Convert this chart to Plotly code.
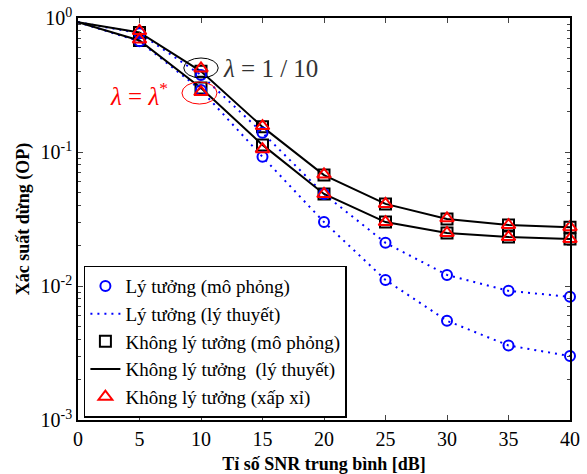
import numpy as np
import plotly.graph_objects as go

snr_db = [0, 5, 10, 15, 20, 25, 30, 35, 40]
snr_sim = [5, 10, 15, 20, 25, 30, 35, 40]

# Ideal (theory) curves: lambda = 1/10 and lambda = lambda*
ideal_theory_a = [0.93, 0.77, 0.375, 0.139, 0.0486, 0.021, 0.0121, 0.0092, 0.0083]
ideal_theory_b = [0.93, 0.67, 0.29, 0.092, 0.030, 0.0111, 0.0055, 0.0036, 0.0030]
ideal_sim_a = [0.77, 0.375, 0.139, 0.0486, 0.021, 0.0121, 0.0092, 0.0083]
ideal_sim_b = [0.67, 0.29, 0.092, 0.030, 0.0111, 0.0055, 0.0036, 0.0030]

# Non-ideal curves
nonideal_theory_a = [0.93, 0.78, 0.40, 0.154, 0.0673, 0.041, 0.0316, 0.0285, 0.0275]
nonideal_theory_b = [0.93, 0.68, 0.30, 0.113, 0.0486, 0.030, 0.0249, 0.0232, 0.0224]
nonideal_sim_a = [0.78, 0.40, 0.154, 0.0673, 0.041, 0.0316, 0.0285, 0.0275]
nonideal_sim_b = [0.68, 0.30, 0.113, 0.0486, 0.030, 0.0249, 0.0232, 0.0224]
nonideal_approx_a = [0.80, 0.42, 0.156, 0.068, 0.041, 0.032, 0.0285, 0.0275]
nonideal_approx_b = [0.69, 0.28, 0.105, 0.0486, 0.030, 0.0249, 0.0232, 0.0224]

x_ticks = [0, 5, 10, 15, 20, 25, 30, 35, 40]
y_ticks = [1e-3, 1e-2, 1e-1, 1]
y_ticktext = ["10<sup>-3</sup>", "10<sup>-2</sup>", "10<sup>-1</sup>", "10<sup>0</sup>"]

legend_names = [
    "Lý tưởng (mô phỏng)",
    "Lý tưởng (lý thuyết)",
    "Không lý tưởng (mô phỏng)",
    "Không lý tưởng  (lý thuyết)",
    "Không lý tưởng (xấp xỉ)",
]

SERIF = "Liberation Serif"
BLUE = "#0000FF"
RED = "#FF0000"

fig = go.Figure()

# theory lines
for i, ys in enumerate([ideal_theory_a, ideal_theory_b]):
    fig.add_trace(go.Scatter(x=snr_db, y=ys, mode="lines",
                             line=dict(color=BLUE, width=2, dash="2px,5px"),
                             name=legend_names[1], legendrank=2, showlegend=(i == 0)))
for i, ys in enumerate([nonideal_theory_a, nonideal_theory_b]):
    fig.add_trace(go.Scatter(x=snr_db, y=ys, mode="lines",
                             line=dict(color="black", width=2),
                             name=legend_names[3], legendrank=4, showlegend=(i == 0)))
# markers
for i, ys in enumerate([nonideal_sim_a, nonideal_sim_b]):
    fig.add_trace(go.Scatter(x=snr_sim, y=ys, mode="markers", cliponaxis=False,
                             marker=dict(symbol="square-open", size=11, color="black",
                                         line=dict(width=2)),
                             name=legend_names[2], legendrank=3, showlegend=(i == 0)))
for i, ys in enumerate([ideal_sim_a, ideal_sim_b]):
    fig.add_trace(go.Scatter(x=snr_sim, y=ys, mode="markers", cliponaxis=False,
                             marker=dict(symbol="circle-open", size=10, color=BLUE,
                                         line=dict(width=2)),
                             name=legend_names[0], legendrank=1, showlegend=(i == 0)))
for i, ys in enumerate([nonideal_approx_a, nonideal_approx_b]):
    fig.add_trace(go.Scatter(x=snr_sim, y=ys, mode="markers", cliponaxis=False,
                             marker=dict(symbol="triangle-up-open", size=12, color=RED,
                                         line=dict(width=2)),
                             name=legend_names[4], legendrank=5, showlegend=(i == 0)))

# ellipses around lambda groups
fig.add_shape(type="circle", xref="x", yref="y", x0=8.6, x1=11.4, y0=0.357, y1=0.503,
              line=dict(color="black", width=1))
fig.add_shape(type="circle", xref="x", yref="y", x0=8.45, x1=11.3, y0=0.228, y1=0.333,
              line=dict(color=RED, width=1))

fig.add_annotation(x=11.6, y=np.log10(0.42), xref="x", yref="y", xanchor="left",
                   yanchor="middle", showarrow=False,
                   text="<i>λ</i> = 1 / 10", font=dict(family=SERIF, size=25, color="#333333"))
fig.add_annotation(x=2.4, y=np.log10(0.27), xref="x", yref="y", xanchor="left",
                   yanchor="middle", showarrow=False,
                   text="<i>λ</i> = <i>λ</i><sup>*</sup>", font=dict(family=SERIF, size=25, color=RED))

fig.update_layout(
    width=587, height=474,
    margin=dict(l=78, r=17, t=18, b=54),
    paper_bgcolor="white", plot_bgcolor="white",
    font=dict(family=SERIF, color="black", size=18),
    showlegend=True,
    legend=dict(x=0.012, y=0.006, xanchor="left", yanchor="bottom",
                bgcolor="white", bordercolor="black", borderwidth=1.5,
                font=dict(family=SERIF, size=19, color="black"), tracegroupgap=0),
)
fig.update_xaxes(range=[0, 40], tickvals=x_ticks, ticks="inside", ticklen=5,
                 showline=True, linecolor="black", linewidth=1.5, mirror="ticks",
                 showgrid=False, zeroline=False, automargin=False,
                 tickfont=dict(family=SERIF, size=20, color="black"),
                 title=dict(text="<b>Tỉ số SNR trung bình [dB]</b>",
                            font=dict(family=SERIF, size=18, color="black"), standoff=14))
minor_vals = [m * 10.0 ** e for e in (-3, -2, -1) for m in range(2, 10)]
fig.update_yaxes(type="log", range=[-3, 0], tickvals=y_ticks, ticktext=y_ticktext,
                 ticks="inside", ticklen=5,
                 minor=dict(tickvals=minor_vals, ticks="inside", ticklen=3, showgrid=False),
                 showline=True, linecolor="black", linewidth=1.5, mirror="ticks",
                 showgrid=False, zeroline=False, automargin=False,
                 tickfont=dict(family=SERIF, size=20, color="black"),
                 title=dict(text="<b>Xác suất dừng (OP)</b>",
                            font=dict(family=SERIF, size=18, color="black"), standoff=6))

fig.write_html("out.html")
